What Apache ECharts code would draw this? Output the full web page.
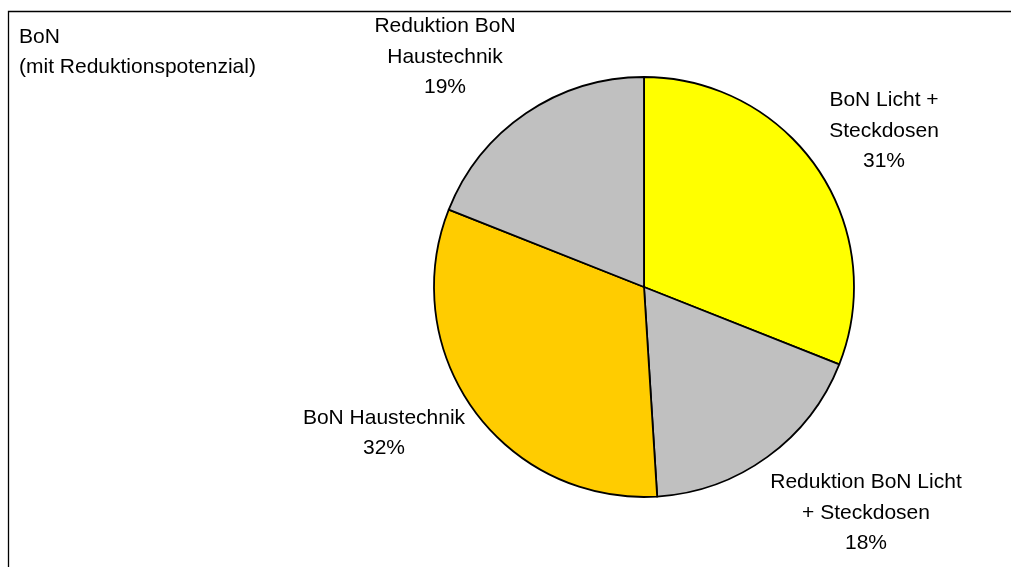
<!DOCTYPE html>
<html>
<head>
<meta charset="utf-8">
<script src="https://cdn.jsdelivr.net/npm/echarts@6/dist/echarts.min.js"></script>
<style>html,body{margin:0;padding:0;background:#fff}#c{width:1011px;height:567px}</style>
</head>
<body>
<div id="c"></div>
<script>
const categories = ['BoN Licht +\nSteckdosen', 'Reduktion BoN Licht\n+ Steckdosen', 'BoN Haustechnik', 'Reduktion BoN\nHaustechnik'];
const values = [31, 18, 32, 19];
const colors = ['#FFFF00', '#C0C0C0', '#FFCC00', '#C0C0C0'];
const titleLines = ['BoN', '(mit Reduktionspotenzial)'];
// label anchor positions (layout only)
const labelPos = [[884, 131], [866, 513], [384, 433], [445, 57]];

const chart = echarts.init(document.getElementById('c'), null, {renderer: 'canvas'});
const FONT = 'Liberation Sans, Arial, sans-serif';
chart.setOption({
  animation: false,
  backgroundColor: '#fff',
  title: {
    text: titleLines.join('\n'),
    left: 19, top: 22, padding: 0,
    textStyle: {fontFamily: FONT, fontSize: 21, fontWeight: 'normal', color: '#000', lineHeight: 30}
  },
  graphic: [{
    type: 'rect', shape: {x: 8.5, y: 11.5, width: 1100, height: 700},
    style: {fill: 'none', stroke: '#000', lineWidth: 1.3}, silent: true, z: -1
  }],
  series: [{
    type: 'pie',
    center: [644, 287],
    radius: 210,
    startAngle: 90,
    clockwise: true,
    avoidLabelOverlap: false,
    data: categories.map((n, i) => ({name: n, value: values[i], itemStyle: {color: colors[i]}})),
    itemStyle: {borderColor: '#000', borderWidth: 1.8},
    label: {
      show: true, position: 'outside',
      formatter: p => p.name + '\n' + Math.round(p.percent) + '%',
      fontFamily: FONT, fontSize: 21, color: '#000', lineHeight: 30.5, align: 'center'
    },
    labelLine: {show: false},
    labelLayout: p => ({x: labelPos[p.dataIndex][0], y: labelPos[p.dataIndex][1], align: 'center', verticalAlign: 'middle'}),
    emphasis: {disabled: true}
  }]
});
</script>
</body>
</html>
